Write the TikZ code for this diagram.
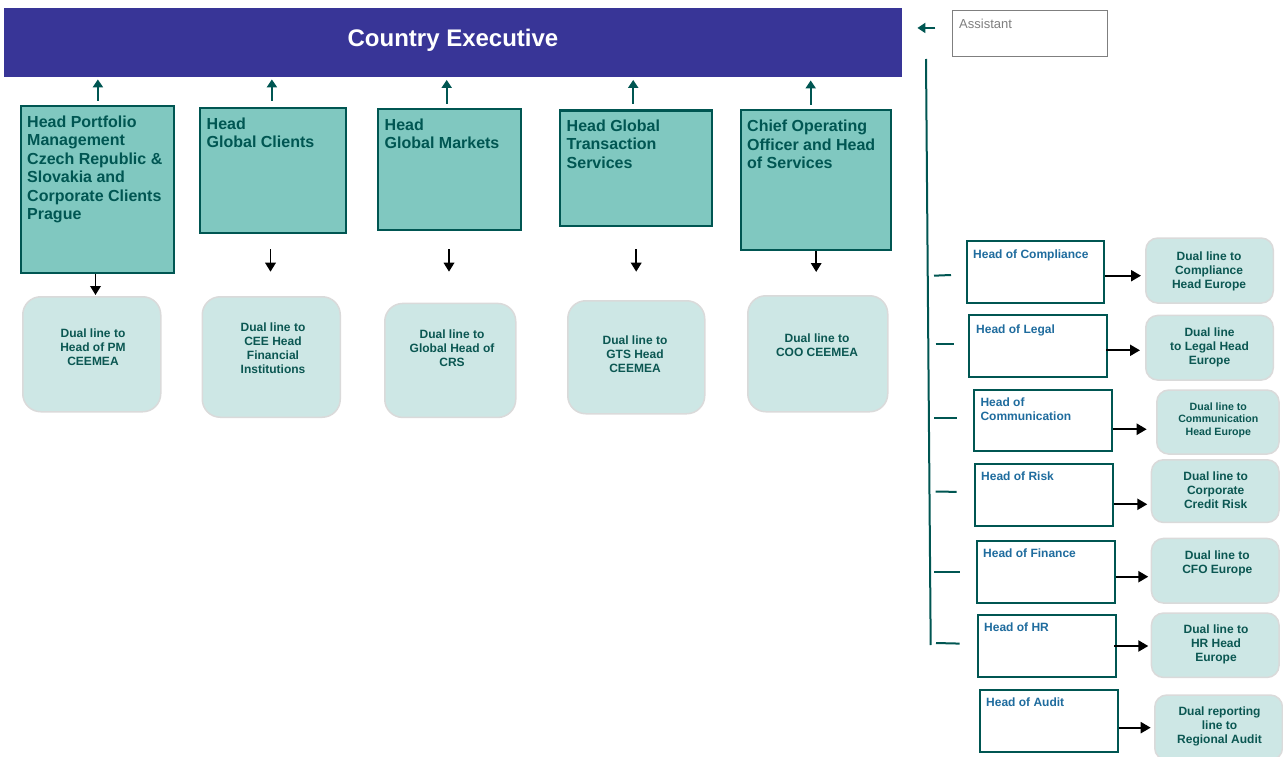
\documentclass[tikz,border=0pt]{standalone}
\usepackage{fontspec}
\setmainfont{Liberation Sans}
\usetikzlibrary{arrows.meta,calc}
\definecolor{ceblue}{HTML}{383597}
\definecolor{tealfill}{HTML}{80C8C0}
\definecolor{tealdark}{HTML}{005652}
\definecolor{dualfill}{HTML}{CDE7E5}
\definecolor{dualedge}{HTML}{DADADA}
\definecolor{dualtext}{HTML}{0B5752}
\definecolor{headblue}{HTML}{1F6C9E}
\definecolor{asstgray}{HTML}{7F7F7F}
\newcommand\mlines[2]{\begin{tabular}[t]{@{}#1@{}}#2\end{tabular}}
\begin{document}
\begin{tikzpicture}[x=1pt,y=-1pt,
  banner/.style={fill=ceblue, draw=none, anchor=north west, inner sep=0},
  bannertext/.style={anchor=base, inner sep=0, text=white, font={\fontsize{24}{28}\selectfont\bfseries}},
  teabox/.style={draw=tealdark, line width=2.4pt, fill=tealfill, anchor=north west, inner sep=0},
  teatext/.style={anchor=base west, inner sep=0, text=tealdark, font={\fontsize{16}{18.4}\selectfont\bfseries}},
  dualbox/.style={draw=dualedge, line width=1.5pt, fill=dualfill, rounded corners=18pt, anchor=north west, inner sep=0},
  dualboxr/.style={dualbox, rounded corners=12pt},
  dualtxt/.style={anchor=base, inner sep=0, text=dualtext, font={\fontsize{12}{14}\selectfont\bfseries}},
  dualtxtsm/.style={dualtxt, font={\fontsize{10.6}{12.5}\selectfont\bfseries}},
  headbox/.style={draw=tealdark, line width=2pt, fill=white, anchor=north west, inner sep=0},
  headtxt/.style={anchor=base west, inner sep=0, text=headblue, font={\fontsize{12}{14.7}\selectfont\bfseries}},
  asstbox/.style={draw=asstgray, line width=1.3pt, fill=white, anchor=north west, inner sep=0},
  assttxt/.style={anchor=base west, inner sep=0, text=asstgray, font={\fontsize{13}{15}\selectfont}},
  uparr/.style={draw=tealdark, line width=2.4pt, -{Triangle[length=8pt,width=10pt]}},
  downarr/.style={draw=black, line width=1.8pt, -{Triangle[length=9pt,width=10.5pt]}},
  rarr/.style={draw=black, line width=2.2pt, -{Triangle[length=10pt,width=11pt]}},
  tline/.style={draw=tealdark, line width=2pt}
]
\useasboundingbox (0,0) rectangle (1283,757);

% banner
\node[banner, minimum width=898pt, minimum height=69pt] (ce) at (4,8) {};
\node[bannertext] (cet) at (453,47) {Country Executive};

% second level boxes
\node[teabox, minimum width=153pt, minimum height=167pt] (b1) at (20,105) {};
\node[teatext] (b1t) at (27,127.5) {\mlines{l}{Head Portfolio\\Management\\Czech Republic \&\\Slovakia and\\Corporate Clients\\Prague}};
\node[teabox, minimum width=146pt, minimum height=125pt] (b2) at (199,107) {};
\node[teatext] (b2t) at (206.5,129.3) {\mlines{l}{Head\\Global Clients}};
\node[teabox, minimum width=143pt, minimum height=121pt] (b3) at (377,108) {};
\node[teatext] (b3t) at (384.5,130.5) {\mlines{l}{Head\\Global Markets}};
\node[teabox, minimum width=152pt, minimum height=115pt] (b4) at (559,109.5) {};
\node[teatext] (b4t) at (566.5,131.5) {\mlines{l}{Head Global\\Transaction\\Services}};
\node[teabox, minimum width=150pt, minimum height=139.5pt] (b5) at (740,109) {};
\node[teatext] (b5t) at (747,131.7) {\mlines{l}{Chief Operating\\Officer and Head\\of Services}};

% dual boxes left
\node[dualbox, minimum width=138pt, minimum height=115pt] (d1) at (22,296) {};
\node[dualtxt] (d1t) at (93,337.7) {\mlines{c}{Dual line to\\Head of PM\\CEEMEA}};
\node[dualbox, minimum width=138pt, minimum height=120.5pt] (d2) at (201.5,296) {};
\node[dualtxt] (d2t) at (273,331.7) {\mlines{c}{Dual line to\\CEE Head\\Financial\\Institutions}};
\node[dualbox, minimum width=131pt, minimum height=114pt] (d3) at (384,302.7) {};
\node[dualtxt] (d3t) at (452,338.3) {\mlines{c}{Dual line to\\Global Head of\\CRS}};
\node[dualbox, minimum width=137pt, minimum height=113pt] (d4) at (567,300) {};
\node[dualtxt] (d4t) at (635,344) {\mlines{c}{Dual line to\\GTS Head\\CEEMEA}};
\node[dualbox, minimum width=140pt, minimum height=116pt] (d5) at (747,295) {};
\node[dualtxt] (d5t) at (817,342.3) {\mlines{c}{Dual line to\\COO CEEMEA}};

% up arrows
\draw[uparr, shorten <=4pt, shorten >=2pt] ([xshift=0.2pt]b1.north) -- ([xshift=0.2pt]b1.north |- ce.south);
\draw[uparr, shorten <=6pt, shorten >=2pt] ([xshift=-1.3pt]b2.north) -- ([xshift=-1.3pt]b2.north |- ce.south);
\draw[uparr, shorten <=4pt, shorten >=2.5pt] ([xshift=-3pt]b3.north) -- ([xshift=-3pt]b3.north |- ce.south);
\draw[uparr, shorten <=5.5pt, shorten >=2.5pt] ([xshift=-3pt]b4.north) -- ([xshift=-3pt]b4.north |- ce.south);
\draw[uparr, shorten <=4pt, shorten >=3pt] ([xshift=-5.5pt]b5.north) -- ([xshift=-5.5pt]b5.north |- ce.south);

% down arrows
\draw[downarr, shorten >=1pt] ([xshift=-2.2pt]b1.south) -- ([xshift=-2.2pt]b1.south |- d1.north);
\draw[downarr, shorten <=14.7pt, shorten >=24.3pt] ([xshift=-2.7pt]b2.south) -- ([xshift=-2.7pt]b2.south |- d2.north);
\draw[downarr, shorten <=17.7pt, shorten >=31pt] ([xshift=-0.7pt]b3.south) -- ([xshift=-0.7pt]b3.south |- d3.north);
\draw[downarr, shorten <=22.2pt, shorten >=28.3pt] (b4.south) -- (b4.south |- d4.north);
\draw[downarr, shorten >=23pt] (b5.south) -- (b5.south |- d5.north);

% assistant
\node[asstbox, minimum width=155pt, minimum height=46pt] (asst) at (952,10) {};
\node[assttxt] (asstt) at (959,28.3) {Assistant};
\draw[uparr, shorten <=16.7pt, shorten >=15pt] ([yshift=5.7pt]asst.west) -- ([yshift=5.7pt]asst.west -| ce.east);

% staff line
\coordinate (vtop) at (926,59);
\coordinate (vbot) at (930.7,645);
\draw[tline] (vtop) -- (vbot);
\draw[tline] (934,275.7) -- (951,275);
\draw[tline] (935.7,344.3) -- (954,344.3);
\draw[tline] (934.3,418.3) -- (956.7,418.3);
\draw[tline] (935.7,491.5) -- (956.7,491.9);
\draw[tline] (934.3,572.3) -- (959.7,572.3);
\draw[tline] (936,643) -- (959.7,643.6);

% staff boxes
\node[headbox, minimum width=137pt, minimum height=62pt] (comp) at (966,240) {};
\node[headtxt] (compt) at (973,258.3) {Head of Compliance};
\node[headbox, minimum width=138pt, minimum height=62pt] (legal) at (968,314) {};
\node[headtxt] (legalt) at (976,333.3) {Head of Legal};
\node[headbox, minimum width=138pt, minimum height=61.5pt] (comm) at (973,388.5) {};
\node[headtxt] (commt) at (980.3,406) {\mlines{l}{Head of\\Communication}};
\node[headbox, minimum width=138pt, minimum height=62pt] (risk) at (973.5,462.5) {};
\node[headtxt] (riskt) at (981,480.7) {Head of Risk};
\node[headbox, minimum width=138pt, minimum height=62pt] (fin) at (975.7,540) {};
\node[headtxt] (fint) at (983,557.7) {Head of Finance};
\node[headbox, minimum width=138pt, minimum height=62pt] (hr) at (977,614) {};
\node[headtxt] (hrt) at (984,631.7) {Head of HR};
\node[headbox, minimum width=138.3pt, minimum height=62.3pt] (audit) at (978.7,688.7) {};
\node[headtxt] (auditt) at (986,706.7) {Head of Audit};

% staff dual boxes
\node[dualboxr, minimum width=127.5pt, minimum height=65pt] (cd) at (1145,237.3) {};
\node[dualtxt] (cdt) at (1209,260) {\mlines{c}{Dual line to\\Compliance\\Head Europe}};
\node[dualboxr, minimum width=127.5pt, minimum height=64.6pt] (ld) at (1145,314.7) {};
\node[dualtxt] (ldt) at (1209.5,336.7) {\mlines{c}{Dual line\\to Legal Head\\Europe}};
\node[dualboxr, minimum width=122.3pt, minimum height=64pt] (md) at (1156,389.3) {};
\node[dualtxtsm] (mdt) at (1218.3,410) {\mlines{c}{Dual line to\\Communication\\Head Europe}};
\node[dualboxr, minimum width=127.6pt, minimum height=62.7pt] (rd) at (1150.7,459) {};
\node[dualtxt] (rdt) at (1215.7,480.7) {\mlines{c}{Dual line to\\Corporate\\Credit Risk}};
\node[dualboxr, minimum width=127.6pt, minimum height=64.6pt] (fd) at (1150.7,537.7) {};
\node[dualtxt] (fdt) at (1217.3,559.3) {\mlines{c}{Dual line to\\CFO Europe}};
\node[dualboxr, minimum width=127.6pt, minimum height=64.4pt] (hd) at (1150.7,612.3) {};
\node[dualtxt] (hdt) at (1216,633.3) {\mlines{c}{Dual line to\\HR Head\\Europe}};
\node[dualboxr, minimum width=127.7pt, minimum height=65pt] (ad) at (1154,694.3) {};
\node[dualtxt] (adt) at (1219.5,715.7) {\mlines{c}{Dual reporting\\line to\\Regional Audit}};

% staff arrows
\draw[rarr, shorten >=4pt] ([yshift=-3.7pt]comp.east) -- ([yshift=-3.7pt]comp.east -| cd.west);
\draw[rarr, shorten <=-2pt, shorten >=5pt] ([yshift=-4.3pt]legal.east) -- ([yshift=-4.3pt]legal.east -| ld.west);
\draw[rarr, shorten >=9.3pt] ([yshift=-9pt]comm.east) -- ([yshift=-9pt]comm.east -| md.west);
\draw[rarr, shorten >=3.4pt] ([yshift=-9.8pt]risk.east) -- ([yshift=-9.8pt]risk.east -| rd.west);
\draw[rarr, shorten >=2.4pt] ([yshift=-4.7pt]fin.east) -- ([yshift=-4.7pt]fin.east -| fd.west);
\draw[rarr, shorten <=-2.7pt, shorten >=2.4pt] (hr.east) -- (hr.east -| hd.west);
\draw[rarr, shorten >=3.3pt] ([yshift=-6.8pt]audit.east) -- ([yshift=-6.8pt]audit.east -| ad.west);
\end{tikzpicture}
\end{document}
